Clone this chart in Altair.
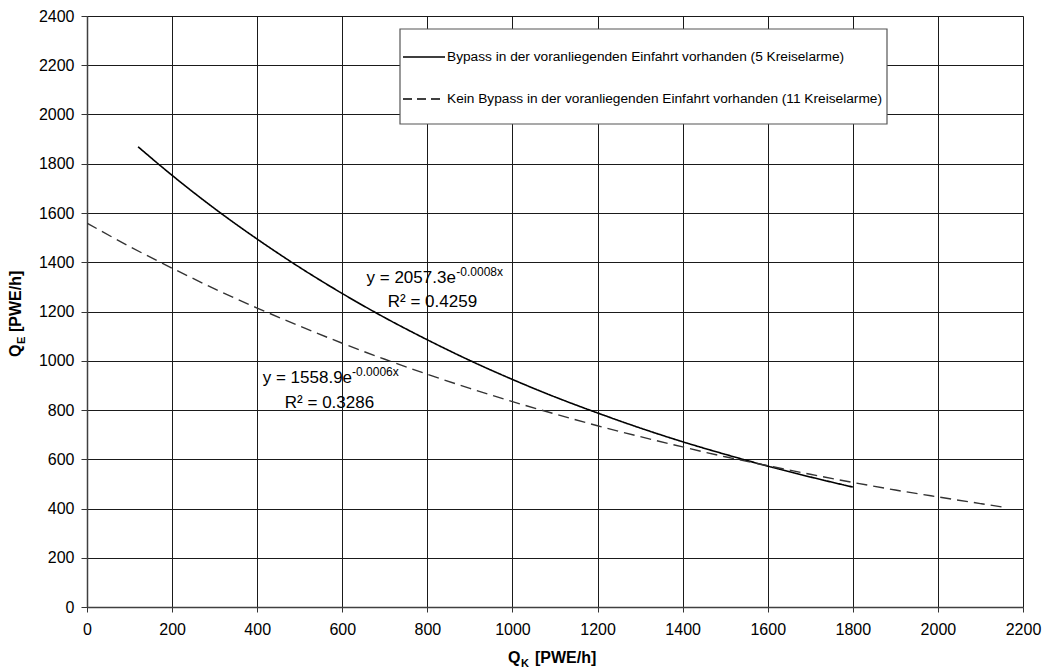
import altair as alt
import pandas as pd

# Q_K values [PWE/h] and the matching capacity Q_E [PWE/h] for each trend curve
bypass_x = [120, 200, 300, 400, 500, 600, 700, 800, 900, 1000, 1100, 1200,
            1300, 1400, 1500, 1600, 1700, 1800]
bypass_y = [1869, 1753, 1618, 1494, 1379, 1273, 1175, 1085, 1001, 924, 853, 788,
            727, 671, 620, 572, 528, 487]

nobypass_x = [0, 100, 200, 300, 400, 500, 600, 700, 800, 900, 1000, 1100, 1200,
              1300, 1400, 1500, 1600, 1700, 1800, 1900, 2000, 2100, 2160]
nobypass_y = [1559, 1464, 1376, 1292, 1214, 1141, 1071, 1006, 945, 888, 834, 784,
              736, 692, 650, 610, 574, 539, 506, 475, 447, 420, 404]

series_names = [
    "Bypass in der voranliegenden Einfahrt vorhanden (5 Kreiselarme)",
    "Kein Bypass in der voranliegenden Einfahrt vorhanden (11 Kreiselarme)",
]

x_ticks = list(range(0, 2201, 200))
y_ticks = list(range(0, 2401, 200))

# Trend-line equations printed next to the curves
eq_main = ["y = 2057.3e", "y = 1558.9e"]
eq_exp = ["-0.0008x", "-0.0006x"]
eq_r2 = ["R\u00b2 = 0.4259", "R\u00b2 = 0.3286"]
eq_main_pos = [(657, 1335), (413, 930)]
eq_exp_pos = [(868, 1362), (623, 955)]
eq_r2_pos = [(707, 1240), (465, 828)]

FONT = "Liberation Sans"

df = pd.concat([
    pd.DataFrame({"qk": bypass_x, "qe": bypass_y, "reihe": series_names[0]}),
    pd.DataFrame({"qk": nobypass_x, "qe": nobypass_y, "reihe": series_names[1]}),
])

xs = alt.Scale(domain=[0, 2200], nice=False, zero=False)
ys = alt.Scale(domain=[0, 2400], nice=False, zero=False)

x_axis = alt.Axis(values=x_ticks, title=None, format="d", labelFont=FONT, labelFontSize=16,
                  labelColor="#000", labelPadding=9, tickSize=5, tickColor="#333",
                  domainColor="#404040", domainWidth=1.5, gridColor="#1a1a1a",
                  gridWidth=1, labelFlush=False, labelOverlap=False)
y_axis = alt.Axis(values=y_ticks, title=None, format="d", labelFont=FONT, labelFontSize=16,
                  labelColor="#000", labelPadding=7, tickSize=6, tickColor="#333",
                  domainColor="#404040", domainWidth=1.5, gridColor="#1a1a1a",
                  gridWidth=1, labelFlush=False, labelOverlap=False)

lines = alt.Chart(df).mark_line(interpolate="monotone", clip=True).encode(
    x=alt.X("qk:Q", scale=xs, axis=x_axis),
    y=alt.Y("qe:Q", scale=ys, axis=y_axis),
    detail="reihe:N",
    color=alt.Color("reihe:N", scale=alt.Scale(domain=series_names, range=["#000000", "#333333"]), legend=None),
    strokeDash=alt.StrokeDash("reihe:N", scale=alt.Scale(domain=series_names, range=[[1, 0], [11, 6]]), legend=None),
    strokeWidth=alt.StrokeWidth("reihe:N", scale=alt.Scale(domain=series_names, range=[1.6, 1.4]), legend=None),
)


def text_layer(labels, positions, size):
    d = pd.DataFrame({"t": labels, "qk": [p[0] for p in positions], "qe": [p[1] for p in positions]})
    return alt.Chart(d).mark_text(align="left", baseline="middle", font=FONT,
                                  fontSize=size, color="#000").encode(
        x=alt.X("qk:Q", scale=xs), y=alt.Y("qe:Q", scale=ys), text="t:N")


eq_layers = (text_layer(eq_main, eq_main_pos, 17)
             + text_layer(eq_exp, eq_exp_pos, 12)
             + text_layer(eq_r2, eq_r2_pos, 17))

# Legend box drawn inside the plot area
one = pd.DataFrame({"k": [0]})
legend_box = alt.Chart(one).mark_rect(
    fill="white", stroke="#555", strokeWidth=1.2).encode(
    x=alt.value(313), x2=alt.value(800), y=alt.value(13), y2=alt.value(108))


def legend_row(name, ypix, dash):
    sample = alt.Chart(one).mark_rule(color="#000", strokeWidth=1.6, strokeDash=dash).encode(
        x=alt.value(316), x2=alt.value(358), y=alt.value(ypix))
    label = alt.Chart(pd.DataFrame({"t": [name]})).mark_text(
        align="left", baseline="middle", font=FONT, fontSize=13.7, color="#000").encode(
        x=alt.value(360), y=alt.value(ypix), text="t:N")
    return sample + label


legend = legend_box + legend_row(series_names[0], 41, [1, 0]) + legend_row(series_names[1], 83, [9, 5])


# Axis titles with subscripts
def title_part(txt, x, y, size, angle=0):
    return alt.Chart(pd.DataFrame({"t": [txt]})).mark_text(
        align="left", baseline="alphabetic", font=FONT, fontSize=size,
        fontWeight="bold", color="#000", angle=angle).encode(
        x=alt.value(x), y=alt.value(y), text="t:N")


x_title = (title_part("Q", 421, 647, 16)
           + title_part("K", 434, 651, 11)
           + title_part("[PWE/h]", 448, 647, 16))
y_title = (title_part("Q", -66, 341, 16, 270)
           + title_part("E", -62, 328, 11, 270)
           + title_part("[PWE/h]", -66, 316, 16, 270))

chart = alt.layer(
    lines, eq_layers, legend, x_title, y_title
).properties(
    width=936, height=591,
    autosize=alt.AutoSizeParams(type="none"),
    padding={"left": 87, "top": 16, "right": 23, "bottom": 62},
).configure_view(stroke="#808080", strokeWidth=2).configure(background="white")

chart.save("out.html", embed_options={"renderer": "svg", "actions": False})
